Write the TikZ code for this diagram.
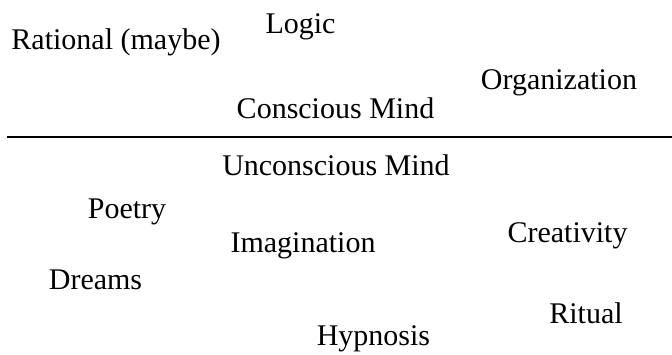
\documentclass[tikz,border=0pt]{standalone}
\usepackage{fontspec}
\setmainfont{Liberation Serif}
\tikzset{
  word/.style={anchor=base, inner sep=0pt, font=\fontsize{30}{34}\selectfont},
}

\begin{document}
\begin{tikzpicture}[x=1pt, y=-1pt]
\useasboundingbox (0,0) rectangle (672,354);
% above the line
\node[word] (rational) at (116,49) {Rational (maybe)};
\node[word] (logic) at (300.5,33) {Logic};
\node[word] (organization) at (559,89) {Organization};
\node[word] (conscious) at (335.5,118) {Conscious Mind};
% the divide
\coordinate (divl) at (7,137);
\coordinate (divr) at (672,137);
\draw[line width=2.7pt] (divl) -- (divr);
% below the line
\node[word] (unconscious) at (336,175) {Unconscious Mind};
\node[word] (poetry) at (127,218) {Poetry};
\node[word] (imagination) at (303,252) {Imagination};
\node[word] (creativity) at (567.5,242) {Creativity};
\node[word] (dreams) at (95.5,289) {Dreams};
\node[word] (ritual) at (586,323) {Ritual};
\node[word] (hypnosis) at (373.5,345) {Hypnosis};
\end{tikzpicture}
\end{document}
